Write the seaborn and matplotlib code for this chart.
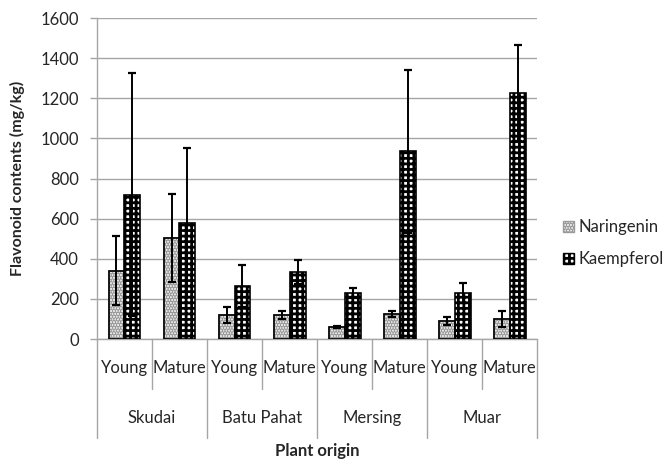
import numpy as np
import pandas as pd
import matplotlib
matplotlib.use('Agg')
import matplotlib.pyplot as plt
import matplotlib.transforms as mtransforms
from matplotlib.patches import Patch, Rectangle
import seaborn as sns

# data
sites = ['Skudai', 'Batu Pahat', 'Mersing', 'Muar']
stages = ['Young', 'Mature']
compounds = ['Naringenin', 'Kaempferol']
naringenin = [340, 505, 120, 120, 58, 125, 88, 100]
naringenin_err = [172, 220, 40, 20, 5, 15, 20, 40]
kaempferol = [720, 580, 265, 335, 230, 935, 230, 1225]
kaempferol_err = [605, 370, 105, 60, 25, 405, 50, 240]
y_ticks = [0, 200, 400, 600, 800, 1000, 1200, 1400, 1600]


def build_frame():
    '''long table for seaborn'''
    slots = [s + '|' + st for s in sites for st in stages]
    rows = []
    for comp, vals in zip(compounds, [naringenin, kaempferol]):
        for slot, v in zip(slots, vals):
            rows.append({'slot': slot, 'compound': comp, 'value': v})
    return pd.DataFrame(rows), slots


sns.set_style('white')
plt.rcParams['font.family'] = ['Lato', 'DejaVu Sans']
plt.rcParams['hatch.linewidth'] = 2.0
text_col = '#262626'
grid_col = '#a6a6a6'
nar_face = '#f2f2f2'
nar_dots = '#9a9a9a'

df, slots = build_frame()

fig = plt.figure(figsize=(6.64, 4.59), dpi=100)
ax = fig.add_axes([0.146, 0.2614, 0.663, 0.6993])

sns.barplot(data=df, x='slot', y='value', hue='compound', order=slots,
            hue_order=compounds, width=0.58, errorbar=None, dodge=True,
            palette=[nar_face, 'white'], edgecolor='black', linewidth=1.2,
            legend=False, ax=ax, zorder=3)

# patterns: fine stipple for naringenin, checker for kaempferol
nar_bars, kae_bars = ax.containers[0], ax.containers[1]
for p in nar_bars:
    p.set_hatch('......')
    p.set_edgecolor(nar_dots)
    ax.add_patch(Rectangle((p.get_x(), 0), p.get_width(), p.get_height(),
                           fill=False, edgecolor='black', linewidth=1.2, zorder=4))
for p in kae_bars:
    p.set_facecolor('white')
    p.set_hatch('+++')
    p.set_edgecolor('black')

# error bars on the bar centres
for container, errs in zip([nar_bars, kae_bars], [naringenin_err, kaempferol_err]):
    xs = [p.get_x() + p.get_width() / 2 for p in container]
    ys = [p.get_height() for p in container]
    ax.errorbar(xs, ys, yerr=errs, fmt='none', ecolor='black', elinewidth=1.4,
                capsize=3, capthick=1.6, zorder=5)

ax.set_ylim(0, 1600)
ax.set_xlim(-0.5, len(slots) - 0.5)
ax.set_yticks(y_ticks)
ax.set_yticklabels([str(t) for t in y_ticks], fontsize=12, color=text_col)
ax.yaxis.grid(True, color=grid_col, linewidth=1, zorder=0)
ax.set_axisbelow(True)
ax.tick_params(axis='y', length=5, width=1, color=grid_col, pad=8, left=True)
for s in ['top', 'right']:
    ax.spines[s].set_visible(False)
for s in ['left', 'bottom']:
    ax.spines[s].set_color(grid_col)
    ax.spines[s].set_linewidth(1)

# two-level category axis
ax.set_xticks(range(len(slots)))
ax.set_xticklabels([s.split('|')[1] for s in slots], fontsize=12, color=text_col)
ax.tick_params(axis='x', length=0, pad=15)
trans = mtransforms.blended_transform_factory(ax.transData, ax.transAxes)
for i in range(len(slots) + 1):
    xpos = i - 0.5
    bottom = -0.308 if i % 2 == 0 else -0.156
    ax.plot([xpos, xpos], [0, bottom], transform=trans, color=grid_col,
            linewidth=1, clip_on=False)
for k, site in enumerate(sites):
    ax.text(2 * k + 0.5, -0.246, site, transform=trans, ha='center', va='center',
            fontsize=12, color=text_col)

ax.set_xlabel('Plant origin', fontsize=12, fontweight='bold', color=text_col)
ax.xaxis.set_label_coords(0.5, -0.35)
ax.xaxis.label.set_verticalalignment('center')
ax.set_ylabel('Flavonoid contents (mg/kg)', fontsize=11.5, fontweight='bold', color=text_col)
ax.yaxis.set_label_coords(-0.18, 0.5)
ax.yaxis.label.set_verticalalignment('center')

handles = [Patch(facecolor=nar_face, edgecolor=nar_dots, hatch='......'),
           Patch(facecolor='white', edgecolor='black', hatch='+++')]
fig.legend(handles, compounds, loc='center left', bbox_to_anchor=(0.848, 0.47),
           frameon=False, fontsize=12, handlelength=0.65, handleheight=0.65,
           labelspacing=0.95, handletextpad=0.3, borderpad=0, borderaxespad=0,
           labelcolor=text_col)

fig.savefig('out.png', dpi=100)
